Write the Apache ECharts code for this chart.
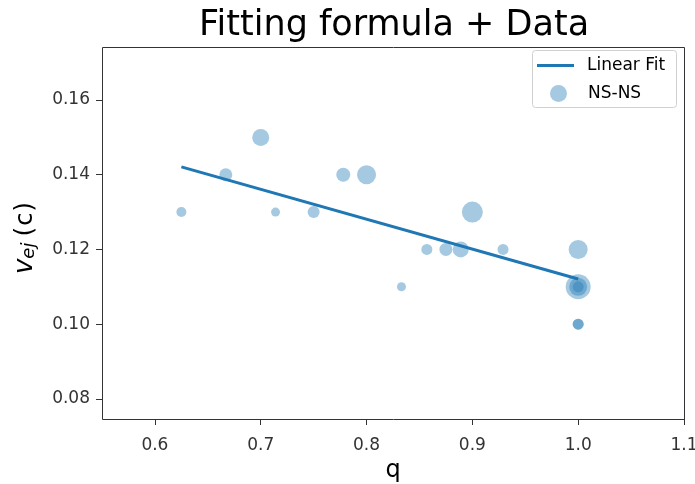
<!DOCTYPE html>
<html>
<head>
<meta charset="utf-8">
<script src="https://cdn.jsdelivr.net/npm/echarts@6/dist/echarts.min.js"></script>
<style>
  html, body { margin: 0; padding: 0; background: #fff; }
  #main { width: 695px; height: 484px; }
</style>
</head>
<body>
<div id="main"></div>
<script>
  // scatter points (q, v_ej) and marker size (px)
  var qVals   = [0.625, 0.667, 0.700, 0.714, 0.750, 0.778, 0.800, 0.833, 0.857, 0.875, 0.889, 0.900, 0.929, 1.000, 1.000, 1.000, 1.000, 1.000, 1.000];
  var vejVals = [0.130, 0.140, 0.150, 0.130, 0.130, 0.140, 0.140, 0.110, 0.120, 0.120, 0.120, 0.130, 0.120, 0.120, 0.110, 0.110, 0.110, 0.100, 0.100];
  var sizes   = [10,    13,    17,    9,     12,    14,    19,    9,     11,    13,    16,    21,    11,    19,    25,    18,    11,    11,    11];

  // linear fit end points
  var fitQ = [0.625, 1.000];
  var fitV = [0.1421, 0.1121];

  var xTicks = [0.6, 0.7, 0.8, 0.9, 1.0, 1.1];
  var yTicks = [0.08, 0.10, 0.12, 0.14, 0.16];

  var blue = '#1f77b4';
  var font = 'DejaVu Sans';

  var scatterData = qVals.map(function (q, i) { return [q, vejVals[i], sizes[i]]; });
  var fitData = fitQ.map(function (q, i) { return [q, fitV[i]]; });

  var chart = echarts.init(document.getElementById('main'));
  chart.setOption({
    animation: false,
    backgroundColor: '#fff',
    title: {
      text: 'Fitting formula + Data',
      left: 194,
      top: 3,
      textStyle: { fontFamily: font, fontSize: 35, fontWeight: 'normal', color: '#000' }
    },
    legend: [
      {
        left: 537, top: 57, padding: 0, z: 20,
        itemWidth: 37, itemHeight: 3,
        icon: 'rect',
        textStyle: { fontFamily: font, fontSize: 17, color: '#000', padding: [0, 0, 0, 8] },
        data: ['Linear Fit']
      },
      {
        left: 550, top: 85, padding: 0, z: 20,
        itemWidth: 17, itemHeight: 17,
        icon: 'circle',
        textStyle: { fontFamily: font, fontSize: 17, color: '#000', padding: [0, 0, 0, 16] },
        data: ['NS-NS']
      }
    ],
    grid: { left: 102, right: 11, top: 47, bottom: 65, containLabel: false, outerBoundsMode: 'none' },
    xAxis: {
      type: 'value',
      min: 0.55,
      max: 1.1,
      name: 'q',
      nameLocation: 'middle',
      nameGap: 37,
      nameTextStyle: { fontFamily: font, fontSize: 24, color: '#000' },
      axisLine: { show: false },
      axisTick: { show: true, length: 6, customValues: xTicks, lineStyle: { color: '#333' } },
      axisLabel: {
        customValues: xTicks,
        fontFamily: font, fontSize: 17, color: '#333', margin: 18,
        formatter: function (v) { return v.toFixed(1); }
      },
      splitLine: { show: false }
    },
    yAxis: {
      type: 'value',
      min: 0.0746,
      max: 0.1742,
      name: '{v|v}{s|ej}{n|(}{c|c}{n|)}',
      nameLocation: 'middle',
      nameRotate: 90,
      nameGap: 64,
      nameTextStyle: {
        fontFamily: font, color: '#000',
        padding: [0, 10, 0, 0],
        rich: {
          v: { fontFamily: font, fontSize: 26, fontStyle: 'italic', color: '#000', verticalAlign: 'bottom', lineHeight: 32 },
          s: { fontFamily: font, fontSize: 18, fontStyle: 'italic', color: '#000', verticalAlign: 'bottom', lineHeight: 26, padding: [0, 6, 0, 0] },
          n: { fontFamily: font, fontSize: 25, color: '#000', verticalAlign: 'bottom', lineHeight: 32 },
          c: { fontFamily: font, fontSize: 24, color: '#000', verticalAlign: 'bottom', lineHeight: 32, padding: [0, 1, 0, 1] }
        }
      },
      axisLine: { show: false },
      axisTick: { show: true, length: 6, customValues: yTicks, lineStyle: { color: '#333' } },
      axisLabel: {
        customValues: yTicks,
        fontFamily: font, fontSize: 17, color: '#333', margin: 12,
        formatter: function (v) { return v.toFixed(2); }
      },
      splitLine: { show: false }
    },
    graphic: [
      {
        type: 'rect',
        shape: { x: 102.5, y: 47.5, width: 582, height: 372 },
        style: { fill: 'none', stroke: '#333', lineWidth: 1 },
        silent: true,
        z: 10
      },
      {
        type: 'rect',
        shape: { x: 532.5, y: 50.5, width: 144, height: 57, r: 3 },
        style: { fill: 'rgba(255,255,255,0.8)', stroke: '#d0d0d0', lineWidth: 1 },
        silent: true,
        z: 5
      }
    ],
    series: [
      {
        name: 'NS-NS',
        type: 'scatter',
        data: scatterData,
        symbolSize: function (d) { return d[2]; },
        itemStyle: { color: 'rgba(31,119,180,0.5)' },
        z: 2
      },
      {
        name: 'Linear Fit',
        type: 'line',
        data: fitData,
        symbol: 'none',
        lineStyle: { color: blue, width: 3 },
        itemStyle: { color: blue },
        z: 3
      }
    ]
  });
</script>
</body>
</html>
